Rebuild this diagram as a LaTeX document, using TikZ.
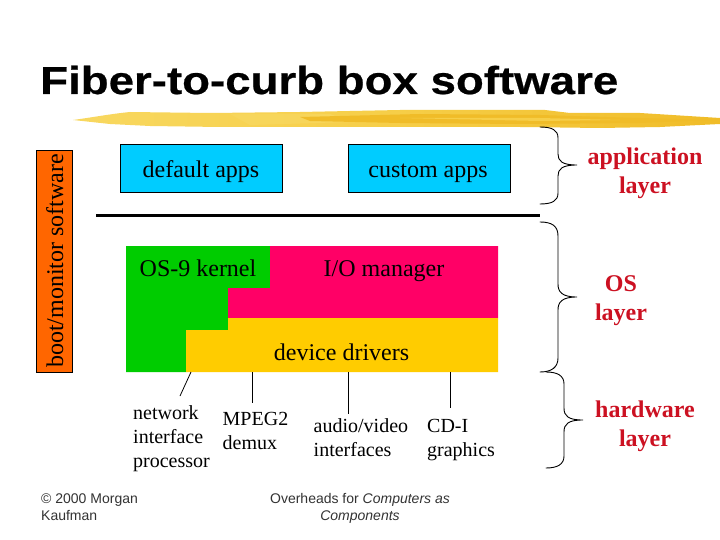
\documentclass[tikz,border=0pt]{standalone}
\usepackage{fontspec}
\setmainfont{Liberation Serif}
\setsansfont{Liberation Sans}
\newfontfamily\titlefont[FakeStretch=1.17,FakeBold=0.6]{Liberation Sans}
\definecolor{skyb}{HTML}{00CCFF}
\definecolor{bootor}{HTML}{FF6600}
\definecolor{kgreen}{HTML}{00CC00}
\definecolor{iored}{HTML}{FF0066}
\definecolor{drvy}{HTML}{FFCC00}
\definecolor{layred}{HTML}{CC1122}
\definecolor{foot}{HTML}{333333}
\definecolor{brA}{HTML}{F8D860}
\definecolor{brB}{HTML}{F6CE48}
\definecolor{brC}{HTML}{F0BC28}
\tikzset{
  x=1pt,y=-1pt,
  appbox/.style={draw=black,line width=1pt,fill=skyb,minimum width=162pt,minimum height=48pt,inner sep=0pt},
  lbl/.style={inner sep=0pt,anchor=base,font=\fontsize{24}{24}\selectfont},
  sublbl/.style={inner sep=0pt,anchor=base west,align=left,font=\fontsize{20}{24}\selectfont},
  laylbl/.style={inner sep=0pt,anchor=base,align=center,text=layred,font=\fontsize{24}{29}\selectfont\bfseries},
  footlbl/.style={inner sep=0pt,text=foot,font=\sffamily\fontsize{14}{17}\selectfont},
  leader/.style={draw=black,line width=0.8pt},
  bracestroke/.style={draw=black,line width=0.9pt,line cap=round}
}
\begin{document}
\begin{tikzpicture}
\useasboundingbox (0,0) rectangle (720,540);
\fill[white] (0,0) rectangle (720,540);
% brush stroke
\shade[left color=brA,right color=brC,shading angle=90,middle color=brB] (73,120) .. controls (95,117) and (110,114) .. (130,112) -- (210,113) -- (300,112) -- (400,110) -- (545,110) -- (570,113) -- (640,113) -- (720,118) -- (720,124) -- (660,127) -- (600,128) -- (520,127) -- (440,127) -- (330,127) -- (220,127) -- (150,126) -- (110,124) -- cycle;
\fill[brA,opacity=.7] (230,114) -- (330,114) -- (350,122) -- (250,125) -- cycle;
\fill[brC] (300,117) -- (420,114) -- (540,115) -- (640,118) -- (712,120) -- (640,123) -- (520,124) -- (400,123) -- (310,121) -- cycle;
\fill[brB] (400,118) -- (540,118) -- (620,120) -- (540,121) -- cycle;
% title
\node[inner sep=0pt,anchor=base west,font=\titlefont\bfseries\fontsize{39}{39}\selectfont] (title) at (40,94) {Fiber-to-curb box software};
% boot box
\node[draw=black,line width=1pt,fill=bootor,minimum width=36pt,minimum height=222pt,inner sep=0pt] (boot) at (54.5,261.5) {};
\node[inner sep=0pt,anchor=base,rotate=90,font=\fontsize{24}{24}\selectfont] (boottxt) at (63,261) {boot/monitor software};
% app boxes
\node[appbox] (defbox) at (201.5,168.5) {};
\node[appbox] (cusbox) at (429,168.5) {};
\node[lbl] (deftxt) at (201,178) {default apps};
\node[lbl] (custxt) at (428,178) {custom apps};
% rule
\coordinate (ruleL) at (96,216);
\coordinate (ruleR) at (540,216);
\draw[line width=3pt] (ruleL) -- (ruleR);
% stacked layers
\fill[kgreen] (126,246) -- (270,246) -- (270,288) -- (228,288) -- (228,330) -- (186,330) -- (186,372) -- (126,372) -- cycle;
\fill[iored] (270,246) -- (498,246) -- (498,318) -- (228,318) -- (228,288) -- (270,288) -- cycle;
\fill[drvy] (228,318) -- (498,318) -- (498,372) -- (186,372) -- (186,330) -- (228,330) -- cycle;
\node[lbl] (ostxt) at (198,276) {OS-9 kernel};
\node[lbl] (iotxt) at (384,276) {I/O manager};
\node[lbl] (drvtxt) at (341.5,360) {device drivers};
% leaders
\coordinate (l1a) at (191,372); \coordinate (l1b) at (180,396);
\coordinate (l2a) at (252,372); \coordinate (l2b) at (252,403);
\coordinate (l3a) at (348.5,372); \coordinate (l3b) at (348.5,414);
\coordinate (l4a) at (450.5,372); \coordinate (l4b) at (450.5,408);
\draw[leader] (l1a) -- (l1b);
\draw[leader] (l2a) -- (l2b);
\draw[leader] (l3a) -- (l3b);
\draw[leader] (l4a) -- (l4b);
% sublabels
\node[sublbl] (net) at (133,467) {network\\interface\\processor};
\node[sublbl] (mpeg) at (222.5,449) {MPEG2\\demux};
\node[sublbl] (av) at (313.5,456) {audio/video\\interfaces};
\node[sublbl] (cd) at (427,456) {CD-I\\graphics};
% braces
\draw[bracestroke] (540,127) .. controls (552,127) and (558,130) .. (558,138) -- (558,154) .. controls (558,161) and (562,165) .. (577,165) .. controls (562,165) and (558,169) .. (558,176) -- (558,193) .. controls (558,201) and (552,204) .. (540,204);
\draw[bracestroke] (540,222) .. controls (552,222) and (558,226) .. (558,236) -- (558,284) .. controls (558,292) and (562,297) .. (577,297) .. controls (562,297) and (558,302) .. (558,310) -- (558,358) .. controls (558,367) and (552,372) .. (540,372);
\draw[bracestroke] (546,372) .. controls (558,372) and (564,376) .. (564,384) -- (564,408) .. controls (564,416) and (568,420) .. (583,420) .. controls (568,420) and (564,424) .. (564,432) -- (564,456) .. controls (564,464) and (558,468) .. (546,468);
% layer labels
\node[laylbl] (applay) at (645,194) {application\\layer};
\node[laylbl] (oslay) at (621,320) {OS\\layer};
\node[laylbl] (hwlay) at (645,446) {hardware\\layer};
% footers
\node[footlbl,anchor=base west,align=left] (copy) at (41,520) {© 2000 Morgan\\Kaufman};
\node[footlbl,anchor=base,align=center] (over) at (360,520) {Overheads for \textit{Computers as}\\\textit{Components}};
\end{tikzpicture}
\end{document}
